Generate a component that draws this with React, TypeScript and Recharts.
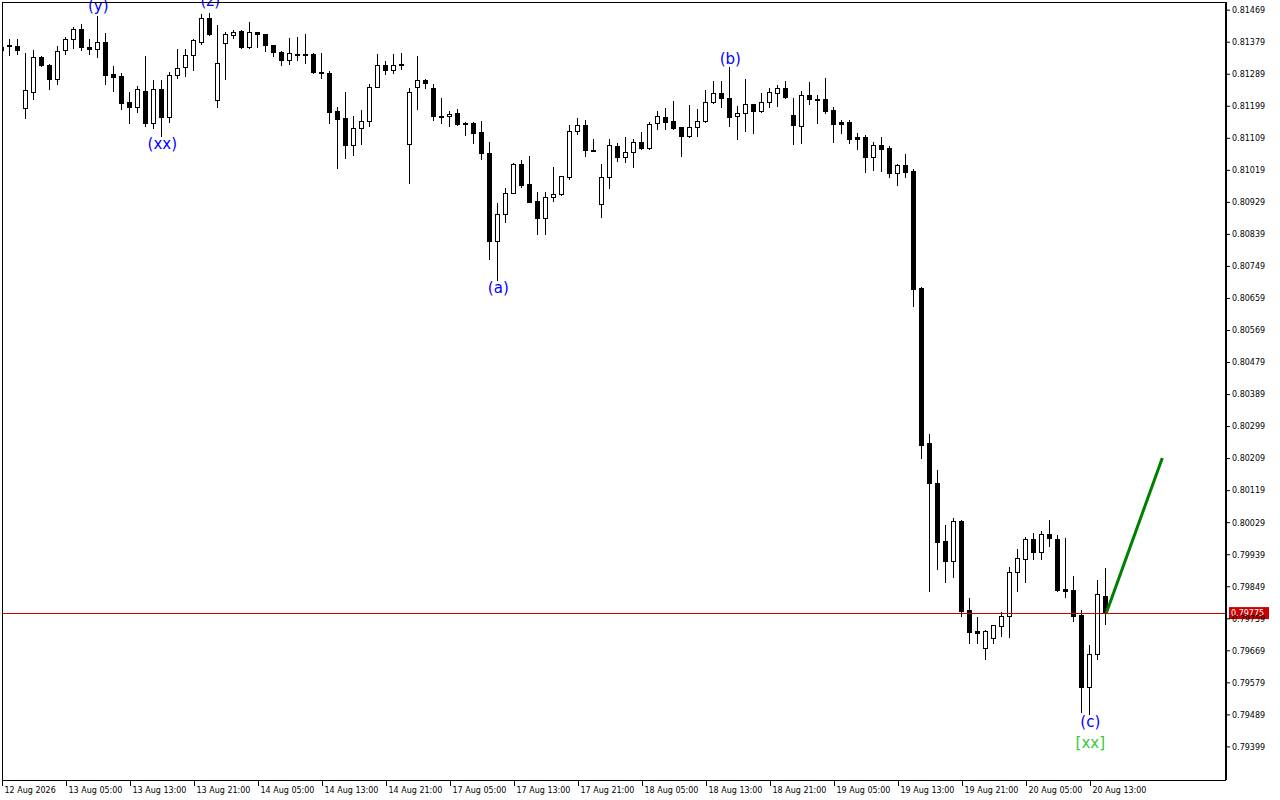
import { ComposedChart, Bar, XAxis, YAxis, ReferenceLine, ReferenceDot } from 'recharts';

// hourly OHLC (12 Aug 21:00 .. 20 Aug 18:00)
const open = [
  0.81357, 0.81371, 0.81367, 0.81193, 0.81239, 0.81337, 0.81315, 0.81275, 0.81357, 0.81388,
  0.81416, 0.81365, 0.81359, 0.81379, 0.81289, 0.81284, 0.81211, 0.81197, 0.81241, 0.81152,
  0.81247, 0.81168, 0.81286, 0.81309, 0.81343, 0.81379, 0.81447, 0.81216, 0.81376, 0.81399,
  0.81410, 0.81365, 0.81407, 0.81402, 0.81371, 0.81351, 0.81329, 0.81346, 0.81345, 0.81345,
  0.81295, 0.81292, 0.81185, 0.81166, 0.81090, 0.81138, 0.81157, 0.81253, 0.81315, 0.81300,
  0.81317, 0.81093, 0.81253, 0.81272, 0.81250, 0.81173, 0.81171, 0.81180, 0.81152, 0.81152,
  0.81126, 0.81067, 0.80820, 0.80896, 0.80955, 0.81036, 0.80980, 0.80933, 0.80885, 0.80944,
  0.80952, 0.81000, 0.81129, 0.81146, 0.81076, 0.80924, 0.81000, 0.81087, 0.81056, 0.81070,
  0.81098, 0.81081, 0.81152, 0.81168, 0.81157, 0.81140, 0.81115, 0.81140, 0.81157, 0.81211,
  0.81236, 0.81222, 0.81171, 0.81180, 0.81205, 0.81185, 0.81211, 0.81236, 0.81250, 0.81174,
  0.81143, 0.81230, 0.81219, 0.81219, 0.81188, 0.81154, 0.81154, 0.81112, 0.81112, 0.81056,
  0.81090, 0.81081, 0.81011, 0.81034, 0.81017, 0.80688, 0.80253, 0.80140, 0.79977, 0.79921,
  0.80034, 0.79784, 0.79725, 0.79677, 0.79705, 0.79739, 0.79767, 0.79890, 0.79927, 0.79983,
  0.79947, 0.79997, 0.79983, 0.79843, 0.79840, 0.79770, 0.79567, 0.79660, 0.79823,
];
const high = [
  0.81373, 0.81388, 0.81388, 0.81348, 0.81357, 0.81340, 0.81317, 0.81368, 0.81393, 0.81421,
  0.81430, 0.81388, 0.81452, 0.81404, 0.81312, 0.81292, 0.81239, 0.81256, 0.81340, 0.81272,
  0.81272, 0.81295, 0.81359, 0.81359, 0.81388, 0.81458, 0.81461, 0.81427, 0.81407, 0.81413,
  0.81413, 0.81435, 0.81408, 0.81403, 0.81372, 0.81354, 0.81390, 0.81393, 0.81402, 0.81348,
  0.81348, 0.81298, 0.81197, 0.81239, 0.81171, 0.81188, 0.81261, 0.81345, 0.81326, 0.81345,
  0.81348, 0.81250, 0.81340, 0.81275, 0.81261, 0.81222, 0.81185, 0.81191, 0.81154, 0.81154,
  0.81157, 0.81098, 0.80927, 0.80969, 0.81039, 0.81048, 0.81059, 0.80958, 0.80958, 0.81028,
  0.81004, 0.81146, 0.81166, 0.81160, 0.81107, 0.81036, 0.81107, 0.81095, 0.81112, 0.81107,
  0.81126, 0.81154, 0.81185, 0.81194, 0.81213, 0.81141, 0.81202, 0.81191, 0.81244, 0.81270,
  0.81270, 0.81309, 0.81199, 0.81275, 0.81206, 0.81236, 0.81250, 0.81258, 0.81270, 0.81222,
  0.81241, 0.81267, 0.81230, 0.81278, 0.81197, 0.81160, 0.81160, 0.81124, 0.81118, 0.81098,
  0.81112, 0.81087, 0.81036, 0.81065, 0.81022, 0.80691, 0.80278, 0.80177, 0.80022, 0.80042,
  0.80036, 0.79817, 0.79764, 0.79727, 0.79742, 0.79778, 0.79904, 0.79955, 0.79989, 0.80000,
  0.80006, 0.80036, 0.79994, 0.79986, 0.79879, 0.79784, 0.79685, 0.79868, 0.79902,
];
const low = [
  0.81351, 0.81343, 0.81345, 0.81166, 0.81219, 0.81312, 0.81247, 0.81261, 0.81345, 0.81362,
  0.81357, 0.81345, 0.81337, 0.81261, 0.81241, 0.81191, 0.81152, 0.81182, 0.81143, 0.81138,
  0.81115, 0.81154, 0.81278, 0.81284, 0.81300, 0.81373, 0.81399, 0.81197, 0.81275, 0.81390,
  0.81362, 0.81363, 0.81365, 0.81354, 0.81340, 0.81315, 0.81317, 0.81329, 0.81320, 0.81292,
  0.81278, 0.81152, 0.81025, 0.81053, 0.81062, 0.81093, 0.81143, 0.81252, 0.81289, 0.81292,
  0.81303, 0.80983, 0.81191, 0.81250, 0.81160, 0.81152, 0.81143, 0.81147, 0.81118, 0.81095,
  0.81050, 0.80770, 0.80711, 0.80873, 0.80954, 0.80972, 0.80929, 0.80840, 0.80840, 0.80933,
  0.80951, 0.80994, 0.81121, 0.81059, 0.81073, 0.80888, 0.80969, 0.81045, 0.81042, 0.81028,
  0.81079, 0.81080, 0.81135, 0.81135, 0.81135, 0.81059, 0.81112, 0.81115, 0.81156, 0.81208,
  0.81197, 0.81143, 0.81107, 0.81129, 0.81124, 0.81184, 0.81197, 0.81199, 0.81222, 0.81093,
  0.81095, 0.81205, 0.81152, 0.81180, 0.81098, 0.81124, 0.81095, 0.81079, 0.81014, 0.81020,
  0.81017, 0.81000, 0.80977, 0.81000, 0.80638, 0.80211, 0.79837, 0.79899, 0.79862, 0.79876,
  0.79767, 0.79691, 0.79691, 0.79646, 0.79691, 0.79711, 0.79708, 0.79837, 0.79862, 0.79927,
  0.79927, 0.79963, 0.79837, 0.79820, 0.79753, 0.79497, 0.79491, 0.79646, 0.79744,
];
const close = [
  0.81365, 0.81368, 0.81356, 0.81244, 0.81337, 0.81315, 0.81275, 0.81354, 0.81388, 0.81416,
  0.81365, 0.81359, 0.81379, 0.81286, 0.81281, 0.81208, 0.81197, 0.81247, 0.81152, 0.81247,
  0.81168, 0.81286, 0.81306, 0.81343, 0.81385, 0.81447, 0.81402, 0.81320, 0.81402, 0.81407,
  0.81365, 0.81407, 0.81402, 0.81371, 0.81351, 0.81329, 0.81348, 0.81345, 0.81346, 0.81295,
  0.81294, 0.81182, 0.81163, 0.81090, 0.81138, 0.81157, 0.81253, 0.81315, 0.81300, 0.81315,
  0.81315, 0.81239, 0.81272, 0.81264, 0.81171, 0.81172, 0.81177, 0.81149, 0.81149, 0.81124,
  0.81067, 0.80820, 0.80896, 0.80955, 0.81036, 0.80977, 0.80930, 0.80885, 0.80944, 0.80952,
  0.81003, 0.81129, 0.81146, 0.81076, 0.81075, 0.81000, 0.81090, 0.81056, 0.81070, 0.81098,
  0.81081, 0.81149, 0.81171, 0.81154, 0.81138, 0.81115, 0.81140, 0.81157, 0.81211, 0.81236,
  0.81222, 0.81168, 0.81180, 0.81205, 0.81185, 0.81211, 0.81239, 0.81250, 0.81225, 0.81146,
  0.81230, 0.81219, 0.81218, 0.81185, 0.81149, 0.81149, 0.81107, 0.81107, 0.81056, 0.81090,
  0.81079, 0.81011, 0.81034, 0.81014, 0.80685, 0.80247, 0.80140, 0.79975, 0.79921, 0.80034,
  0.79781, 0.79722, 0.79719, 0.79725, 0.79741, 0.79767, 0.79890, 0.79930, 0.79983, 0.79947,
  0.79997, 0.79986, 0.79840, 0.79837, 0.79767, 0.79567, 0.79660, 0.79829, 0.79775,
];

// one label every 8 bars
const timeLabels = [
  '12 Aug 2026', '13 Aug 05:00', '13 Aug 13:00', '13 Aug 21:00', '14 Aug 05:00', '14 Aug 13:00',
  '14 Aug 21:00', '17 Aug 05:00', '17 Aug 13:00', '17 Aug 21:00', '18 Aug 05:00', '18 Aug 13:00',
  '18 Aug 21:00', '19 Aug 05:00', '19 Aug 13:00', '19 Aug 21:00', '20 Aug 05:00', '20 Aug 13:00',
];
const timeTicks = timeLabels.map((_, n) => n * 8);

const priceTicks = [
  0.79399, 0.79489, 0.79579, 0.79669, 0.79759, 0.79849, 0.79939, 0.80029, 0.80119, 0.80209,
  0.80299, 0.80389, 0.80479, 0.80569, 0.80659, 0.80749, 0.80839, 0.80929, 0.81019, 0.81109,
  0.81199, 0.81289, 0.81379, 0.81469,
];

const currentPrice = 0.79775;

// wave marks
const waveText = ['(y)', '(xx)', '(z)', '(a)', '(b)', '(c)', '[xx]'];
const waveBar = [12, 20, 26, 62, 91, 136, 136];
const wavePrice = [0.8148, 0.81093, 0.81494, 0.80688, 0.81331, 0.79469, 0.7941];
const waveColor = ['#0000ff', '#0000ff', '#0000ff', '#0000ff', '#0000ff', '#0000ff', '#32cd32'];

// projected move
const projBar = [138, 145];
const projPrice = [0.79775, 0.80211];

const candles = open.map((o, i) => ({ i, o, h: high[i], l: low[i], c: close[i] }));

const FONT = '"DejaVu Sans", Tahoma, sans-serif';

function Candle(props: any) {
  const { x, y, width, height, payload } = props;
  if (!payload || height == null) return null;
  const { o, h, l, c } = payload;
  const k = height / (h - l);
  const cx = Math.floor(x + width / 2) + 0.5;
  const top = Math.round(y + (h - Math.max(o, c)) * k) + 0.5;
  let bot = Math.round(y + (h - Math.min(o, c)) * k) + 0.5;
  if (bot - top < 1) bot = top + 1;
  return (
    <g shapeRendering="crispEdges">
      <line x1={cx} x2={cx} y1={Math.round(y)} y2={Math.round(y + height) + 1} stroke="#000" strokeWidth={1} />
      <rect x={cx - 2} y={top} width={4} height={bot - top} fill={c >= o ? '#fff' : '#000'} stroke="#000" strokeWidth={1} />
    </g>
  );
}

function TimeTick(props: any) {
  const { x, y, payload } = props;
  const label = timeLabels[timeTicks.indexOf(payload.value)];
  const tx = Math.floor(x) + 0.5;
  return (
    <g>
      <line x1={tx} x2={tx} y1={y} y2={y + 6} stroke="#000" shapeRendering="crispEdges" />
      <text x={tx + 2} y={y + 13} fontFamily={FONT} fontSize={8} fill="#000">{label}</text>
    </g>
  );
}

function PriceTag(props: any) {
  const vb = props.viewBox;
  if (!vb) return null;
  const left = vb.x + vb.width + 3;
  return (
    <g>
      <rect x={left} y={vb.y - 6} width={40} height={12} fill="#c80000" />
      <text x={left + 2} y={vb.y + 3} fontFamily={FONT} fontSize={8} fill="#fff">{currentPrice.toFixed(5)}</text>
    </g>
  );
}

export default function App() {
  return (
    <div style={{ position: 'absolute', left: 0, top: 0, width: 1280, height: 800, background: '#fff', fontFamily: FONT }}>
      <ComposedChart width={1280} height={800} data={candles} margin={{ top: 2, right: 0, bottom: 0, left: 2 }}>
        <XAxis
          type="number"
          dataKey="i"
          domain={[-0.04, 152.96]}
          allowDataOverflow
          ticks={timeTicks}
          interval={0}
          height={20}
          tickSize={0}
          tickMargin={0}
          tickLine={false}
          axisLine={{ stroke: '#000', shapeRendering: 'crispEdges' }}
          tick={<TimeTick />}
        />
        <YAxis
          orientation="right"
          type="number"
          domain={[0.79306, 0.81492]}
          allowDataOverflow
          ticks={priceTicks}
          interval={0}
          width={54}
          axisLine={{ stroke: '#000', strokeWidth: 2 }}
          tickLine={{ stroke: '#000' }}
          tickSize={4}
          tickMargin={2}
          tick={{ fontFamily: FONT, fontSize: 8, fill: '#000' }}
          tickFormatter={(v: number) => v.toFixed(5)}
        />
        <Bar dataKey={(d: any) => [d.l, d.h]} barSize={5} shape={(p: any) => <Candle {...p} />} isAnimationActive={false} />
        <ReferenceLine y={currentPrice} stroke="#c80000" strokeWidth={1} shapeRendering="crispEdges" label={<PriceTag />} />
        <ReferenceLine
          segment={[{ x: projBar[0], y: projPrice[0] }, { x: projBar[1], y: projPrice[1] }]}
          stroke="#008000"
          strokeWidth={3}
          ifOverflow="visible"
        />
        {waveText.map((t, n) => (
          <ReferenceDot
            key={t + n}
            x={waveBar[n]}
            y={wavePrice[n]}
            r={1}
            ifOverflow="visible"
            shape={(p: any) => (
              <text x={p.cx} y={p.cy} textAnchor="middle" dominantBaseline="central" fontFamily={FONT} fontSize={15} fill={waveColor[n]}>
                {t}
              </text>
            )}
          />
        ))}
      </ComposedChart>
      <div style={{ position: 'absolute', left: 2, top: 2, width: 1224, height: 778, borderLeft: '1px solid #000', borderTop: '1px solid #000', boxSizing: 'border-box', pointerEvents: 'none' }} />
    </div>
  );
}
